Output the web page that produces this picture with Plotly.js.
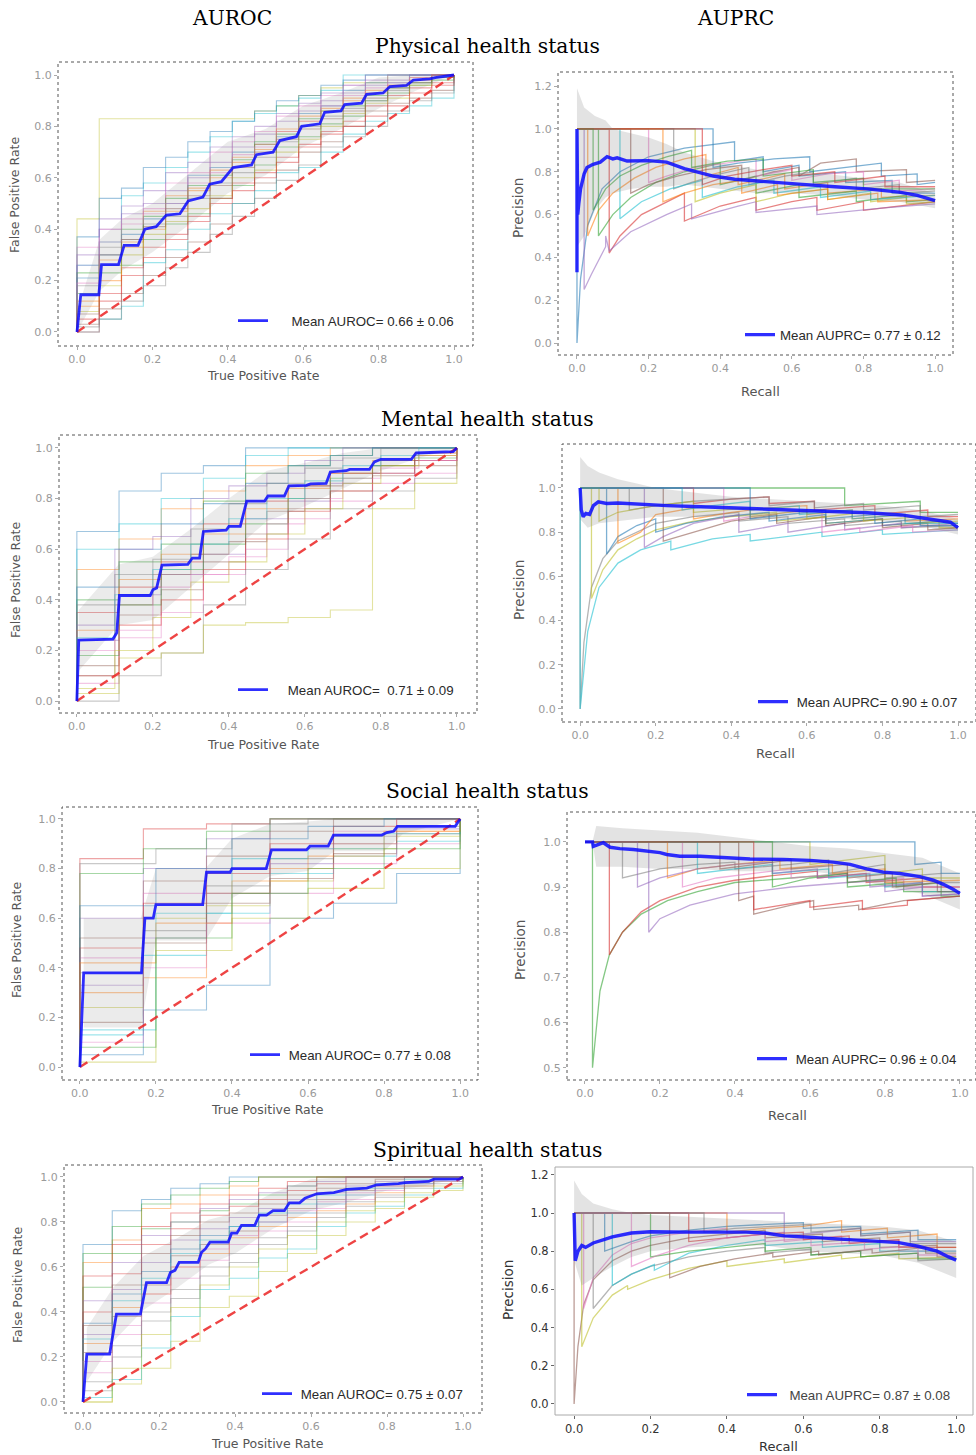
<!DOCTYPE html>
<html><head><meta charset="utf-8">
<script src="https://cdn.plot.ly/plotly-3.0.1.min.js"></script>
<style>html,body{margin:0;padding:0;background:#fff}#chart{width:976px;height:1455px}</style>
</head><body><div id="chart"></div>
<script>
// ---------------- DATA ----------------
const xTicks = [0,0.2,0.4,0.6,0.8,1.0];
const rocYTicks = [0,0.2,0.4,0.6,0.8,1.0];
const pr12YTicks = [0,0.2,0.4,0.6,0.8,1.0,1.2];
const socPrYTicks = [0.5,0.6,0.7,0.8,0.9,1.0];
const diagX = [0,1];
const diagY = [0,1];

// Physical - ROC
const physRocGrid = [0,0.059,0.118,0.176,0.235,0.294,0.353,0.412,0.471,0.529,0.588,0.647,0.706,0.765,0.824,0.882,0.941,1];
const physRocFolds = [
 [0.44,0.83,0.83,0.83,0.83,0.83,0.83,0.83,0.86,0.88,0.92,0.95,0.97,0.97,1,1,1,1],
 [0.26,0.35,0.53,0.58,0.64,0.70,0.76,0.82,0.85,0.88,0.91,0.94,1,1,1,1,1,1],
 [0.21,0.30,0.38,0.44,0.50,0.61,0.64,0.70,0.73,0.76,0.85,0.88,0.94,0.97,0.97,1,1,1],
 [0.10,0.28,0.35,0.47,0.53,0.55,0.60,0.66,0.71,0.78,0.84,0.87,0.90,0.93,0.96,0.99,1,1],
 [0.15,0.23,0.26,0.36,0.42,0.46,0.52,0.57,0.65,0.72,0.76,0.81,0.84,0.90,0.93,0.96,0.98,1],
 [0.05,0.12,0.25,0.33,0.38,0.45,0.50,0.58,0.62,0.68,0.73,0.78,0.82,0.88,0.92,0.95,0.97,1],
 [0.26,0.40,0.46,0.50,0.55,0.60,0.66,0.72,0.77,0.82,0.86,0.90,0.93,0.96,0.98,1,1,1],
 [0.03,0.09,0.15,0.22,0.29,0.35,0.42,0.50,0.58,0.63,0.70,0.74,0.80,0.86,0.89,0.91,0.94,1],
 [0.33,0.40,0.44,0.48,0.58,0.62,0.70,0.74,0.78,0.84,0.88,0.92,0.96,1,1,1,1,1],
 [0.18,0.33,0.36,0.42,0.45,0.52,0.58,0.62,0.68,0.74,0.80,0.84,0.87,0.90,0.94,0.97,1,1],
 [0.08,0.18,0.30,0.38,0.43,0.48,0.53,0.60,0.63,0.70,0.75,0.80,0.85,0.89,0.91,0.96,0.99,1],
 [0.0,0.05,0.10,0.27,0.32,0.40,0.46,0.50,0.55,0.62,0.64,0.70,0.77,0.82,0.85,0.88,0.91,1],
 [0.37,0.52,0.56,0.64,0.68,0.74,0.78,0.82,0.86,0.90,0.92,0.96,0.98,1,1,1,1,1],
 [0.12,0.20,0.33,0.40,0.47,0.56,0.63,0.68,0.73,0.79,0.82,0.86,0.91,0.94,0.96,0.98,1,1],
 [0.23,0.26,0.40,0.45,0.52,0.57,0.61,0.67,0.74,0.77,0.83,0.86,0.88,0.92,0.95,0.97,0.99,1],
 [0.0,0.15,0.22,0.29,0.36,0.43,0.52,0.55,0.60,0.66,0.72,0.77,0.80,0.84,0.88,0.93,0.96,1],
 [0.30,0.44,0.49,0.55,0.62,0.66,0.72,0.76,0.80,0.85,0.89,0.93,0.96,0.98,1,1,1,1],
 [0.07,0.30,0.36,0.41,0.48,0.53,0.57,0.64,0.70,0.75,0.79,0.83,0.86,0.91,0.95,0.97,1,1],
 [0.19,0.35,0.42,0.46,0.50,0.58,0.62,0.69,0.72,0.78,0.82,0.88,0.92,0.95,0.97,0.99,1,1],
 [0.02,0.05,0.12,0.18,0.25,0.31,0.38,0.45,0.52,0.59,0.65,0.72,0.76,0.80,0.86,0.90,0.93,1]
];
const physRocMeanX = [0,0.01,0.058,0.065,0.11,0.125,0.162,0.18,0.21,0.237,0.273,0.295,0.334,0.352,0.383,0.414,0.463,0.476,0.52,0.538,0.582,0.596,0.644,0.657,0.70,0.71,0.755,0.768,0.812,0.83,0.874,0.892,0.936,0.95,1.0];
const physRocMeanY = [0,0.145,0.145,0.262,0.262,0.337,0.337,0.40,0.41,0.455,0.46,0.51,0.525,0.575,0.585,0.64,0.65,0.69,0.70,0.745,0.76,0.80,0.81,0.855,0.86,0.885,0.89,0.925,0.93,0.955,0.96,0.98,0.985,0.99,1.0];
const physRocBandX = [0,0.06,0.12,0.2,0.3,0.4,0.5,0.6,0.7,0.8,0.9,1.0];
const physRocBandUp = [0.08,0.36,0.44,0.50,0.62,0.74,0.79,0.88,0.93,0.99,1.0,1.0];
const physRocBandLo = [0.0,0.16,0.24,0.31,0.42,0.54,0.61,0.72,0.79,0.87,0.94,1.0];

// Physical - PR
const physPrFoldX = [
 [0,0,0.01,0.03,0.07,0.12,0.2,0.3,0.44,0.44,0.52,0.52,0.62,0.62,0.75,0.75,0.88,0.88,1],
 [0,0.03,0.03,0.06,0.1,0.16,0.22,0.3,0.36,0.36,0.45,0.45,0.58,0.58,0.7,0.7,0.85,0.85,1],
 [0,0.06,0.06,0.1,0.15,0.22,0.3,0.4,0.4,0.5,0.5,0.62,0.62,0.78,0.78,0.92,0.92,1],
 [0,0.09,0.09,0.12,0.18,0.25,0.3,0.3,0.4,0.5,0.5,0.6,0.67,0.67,0.8,0.8,1],
 [0.02,0.02,0.04,0.08,0.08,0.09,0.15,0.25,0.32,0.32,0.45,0.5,0.5,0.67,0.67,0.85,1],
 [0,0.15,0.15,0.2,0.28,0.36,0.46,0.46,0.55,0.62,0.62,0.68,0.78,0.78,0.92,0.92,1],
 [0,0.2,0.2,0.25,0.33,0.42,0.5,0.5,0.6,0.6,0.7,0.8,0.8,0.9,0.9,1],
 [0,0.27,0.27,0.32,0.4,0.48,0.48,0.58,0.66,0.66,0.78,0.78,0.9,0.9,1],
 [0,0.33,0.33,0.4,0.5,0.5,0.6,0.7,0.7,0.82,0.82,0.92,0.92,1],
 [0,0.12,0.12,0.18,0.26,0.35,0.35,0.45,0.55,0.55,0.68,0.68,0.82,0.82,1],
 [0,0.38,0.38,0.45,0.55,0.65,0.65,0.75,0.85,0.85,0.95,0.95,1],
 [0,0.24,0.24,0.3,0.38,0.46,0.46,0.56,0.56,0.7,0.7,0.84,0.84,1],
 [0,0.045,0.045,0.08,0.12,0.18,0.25,0.32,0.32,0.42,0.52,0.52,0.66,0.66,0.8,0.8,1],
 [0,0.35,0.35,0.42,0.52,0.6,0.6,0.72,0.72,0.86,0.86,1]
];
const physPrFoldY = [
 [1,0,0.3,0.55,0.72,0.8,0.87,0.91,0.94,0.85,0.87,0.80,0.83,0.78,0.80,0.75,0.76,0.70,0.70],
 [1,1,0.5,0.62,0.70,0.77,0.82,0.86,0.88,0.78,0.82,0.74,0.79,0.72,0.75,0.70,0.72,0.68,0.69],
 [1,1,0.5,0.6,0.68,0.75,0.80,0.84,0.74,0.78,0.70,0.74,0.68,0.71,0.66,0.69,0.66,0.67],
 [1,1,0.42,0.5,0.6,0.66,0.70,0.57,0.64,0.68,0.62,0.66,0.68,0.62,0.66,0.62,0.66],
 [1,0.25,0.32,0.45,0.50,0.43,0.52,0.60,0.65,0.58,0.64,0.66,0.61,0.64,0.60,0.63,0.65],
 [1,1,0.7,0.74,0.78,0.81,0.83,0.76,0.80,0.82,0.78,0.84,0.86,0.80,0.81,0.75,0.76],
 [1,1,0.75,0.78,0.82,0.84,0.86,0.78,0.81,0.76,0.79,0.80,0.74,0.76,0.71,0.72],
 [1,1,0.72,0.75,0.79,0.82,0.74,0.78,0.80,0.74,0.77,0.72,0.74,0.70,0.71],
 [1,1,0.66,0.70,0.74,0.66,0.70,0.72,0.67,0.70,0.66,0.68,0.65,0.66],
 [1,1,0.58,0.66,0.72,0.76,0.68,0.73,0.76,0.70,0.73,0.68,0.71,0.67,0.69],
 [1,1,0.82,0.84,0.86,0.87,0.80,0.82,0.84,0.78,0.79,0.74,0.75],
 [1,1,0.66,0.70,0.74,0.76,0.70,0.74,0.69,0.72,0.67,0.70,0.66,0.67],
 [1,1,0.62,0.72,0.78,0.83,0.87,0.90,0.82,0.85,0.86,0.78,0.81,0.75,0.77,0.72,0.72],
 [1,1,0.74,0.78,0.81,0.83,0.78,0.80,0.75,0.78,0.73,0.73]
];
const physPrMeanX = [0,0,0.002,0.005,0.01,0.02,0.028,0.045,0.065,0.084,0.1,0.112,0.14,0.2,0.25,0.3,0.38,0.44,0.53,0.62,0.72,0.81,0.9,0.95,1.0];
const physPrMeanY = [0.33,1.0,0.6,0.65,0.72,0.79,0.82,0.835,0.845,0.87,0.86,0.865,0.85,0.852,0.845,0.815,0.78,0.765,0.752,0.742,0.73,0.72,0.705,0.69,0.665];
const physPrBandX = [0,0.02,0.05,0.08,0.1,0.15,0.2,0.25,0.3,0.4,0.5,0.6,0.7,0.8,0.9,1];
const physPrBandUp = [1.19,1.1,1.06,1.04,1.0,0.98,0.96,0.93,0.89,0.84,0.81,0.8,0.79,0.77,0.75,0.7];
const physPrBandLo = [0.45,0.5,0.62,0.68,0.70,0.72,0.73,0.73,0.74,0.72,0.70,0.70,0.69,0.67,0.66,0.63];

// Mental - ROC
const mentRocGrid9 = [0,0.111,0.222,0.333,0.444,0.556,0.667,0.778,0.889,1];
const mentRocGrid10 = [0,0.1,0.2,0.3,0.4,0.5,0.6,0.7,0.8,0.9,1];
const mentRocFolds9 = [
 [0.67,0.83,0.90,0.93,1.0,1,1,1,1,1],
 [0.52,0.64,0.76,0.83,0.93,0.97,1,1,1,1],
 [0.40,0.55,0.62,0.79,0.90,0.93,0.97,1,1,1],
 [0.35,0.45,0.55,0.70,0.79,0.85,0.90,0.93,0.97,1],
 [0.24,0.42,0.50,0.58,0.72,0.79,0.86,0.90,0.95,1],
 [0.14,0.34,0.44,0.55,0.66,0.76,0.83,0.89,0.93,1],
 [0.07,0.25,0.35,0.50,0.60,0.72,0.79,0.86,0.90,1],
 [0.0,0.10,0.19,0.38,0.52,0.64,0.76,0.83,0.88,1],
 [0.03,0.17,0.19,0.30,0.31,0.33,0.36,0.76,0.86,1],
 [0.60,0.70,0.80,0.88,0.97,1,1,1,1,1],
 [0.45,0.60,0.70,0.78,0.86,0.93,0.97,1,1,1],
 [0.28,0.48,0.58,0.66,0.76,0.84,0.90,0.95,0.98,1],
 [0.18,0.38,0.52,0.62,0.70,0.80,0.88,0.93,0.96,1],
 [0.10,0.30,0.40,0.52,0.64,0.75,0.83,0.90,0.95,1]
];
const mentRocFolds10 = [
 [0.30,0.60,0.65,0.80,0.85,0.90,0.95,1,1,1,1],
 [0.10,0.38,0.50,0.58,0.63,0.75,0.85,0.90,0.95,0.98,1],
 [0.20,0.28,0.45,0.50,0.57,0.70,0.80,0.88,0.92,0.95,1],
 [0.38,0.50,0.56,0.68,0.78,0.86,0.92,0.96,1,1,1],
 [0.05,0.20,0.33,0.47,0.55,0.66,0.76,0.86,0.93,0.97,1],
 [0.25,0.42,0.52,0.62,0.72,0.80,0.87,0.93,0.97,1,1]
];
const mentRocMeanX = [0,0.005,0.095,0.105,0.112,0.193,0.2,0.21,0.224,0.292,0.304,0.323,0.333,0.393,0.40,0.43,0.447,0.494,0.503,0.546,0.558,0.604,0.615,0.656,0.667,0.709,0.718,0.77,0.783,0.80,0.88,0.893,0.99,1.0];
const mentRocMeanY = [0,0.241,0.245,0.27,0.417,0.417,0.44,0.447,0.537,0.54,0.565,0.565,0.67,0.675,0.69,0.69,0.79,0.79,0.81,0.81,0.85,0.852,0.858,0.86,0.905,0.91,0.915,0.915,0.945,0.955,0.955,0.98,0.985,1.0];
const mentRocBandX = [0.005,0.11,0.2,0.3,0.4,0.5,0.6,0.7,0.8,0.9,1];
const mentRocBandUp = [0.36,0.54,0.57,0.68,0.80,0.91,0.94,0.98,1.0,1.0,1.0];
const mentRocBandLo = [0.12,0.30,0.32,0.45,0.58,0.71,0.77,0.84,0.91,0.96,1.0];

// Mental - PR
const mentPrFoldX = [
 [0,0,0.01,0.03,0.06,0.1,0.2,0.3,0.42,0.42,0.55,0.55,0.7,0.7,0.85,0.85,1],
 [0,0.03,0.03,0.06,0.1,0.15,0.2,0.3,0.4,0.52,0.52,0.65,0.65,0.8,0.8,0.95,0.95,1],
 [0,0,0.02,0.05,0.1,0.16,0.24,0.24,0.35,0.45,0.45,0.6,0.64,0.64,0.8,0.8,1],
 [0,0.07,0.07,0.1,0.15,0.2,0.2,0.28,0.38,0.5,0.5,0.65,0.65,0.8,0.8,0.95,1],
 [0,0.1,0.1,0.16,0.2,0.3,0.3,0.4,0.5,0.6,0.6,0.72,0.72,0.86,0.86,1],
 [0,0.7,0.7,0.8,0.9,0.9,1],
 [0,0.3,0.3,0.4,0.5,0.5,0.62,0.62,0.78,0.78,0.92,0.92,1],
 [0,0.17,0.17,0.22,0.3,0.42,0.42,0.55,0.55,0.7,0.7,0.85,0.85,1],
 [0,0.22,0.22,0.3,0.4,0.52,0.52,0.65,0.65,0.8,0.8,0.92,0.92,1],
 [0,0.38,0.38,0.45,0.55,0.64,0.64,0.74,0.74,0.88,0.88,1],
 [0,0.13,0.13,0.2,0.3,0.4,0.5,0.5,0.62,0.62,0.75,0.75,0.9,0.9,1],
 [0,0.05,0.05,0.1,0.2,0.3,0.3,0.45,0.45,0.6,0.6,0.75,0.75,0.9,0.9,1],
 [0,0.27,0.27,0.35,0.45,0.45,0.58,0.58,0.72,0.72,0.86,0.86,1],
 [0,0.45,0.45,0.55,0.65,0.65,0.78,0.78,0.9,0.9,1]
];
const mentPrFoldY = [
 [1,0,0.3,0.55,0.68,0.76,0.84,0.87,0.89,0.85,0.87,0.84,0.86,0.83,0.85,0.82,0.83],
 [1,1,0.5,0.63,0.72,0.77,0.81,0.85,0.87,0.89,0.85,0.87,0.84,0.86,0.83,0.85,0.82,0.82],
 [1,0,0.35,0.55,0.66,0.72,0.76,0.72,0.77,0.79,0.76,0.79,0.80,0.78,0.81,0.79,0.81],
 [1,1,0.7,0.78,0.83,0.86,0.80,0.84,0.87,0.89,0.85,0.88,0.84,0.86,0.83,0.85,0.84],
 [1,1,0.75,0.8,0.88,0.91,0.86,0.89,0.91,0.92,0.88,0.90,0.86,0.88,0.85,0.86],
 [1,1,0.92,0.93,0.94,0.89,0.89],
 [1,1,0.93,0.95,0.96,0.93,0.94,0.90,0.92,0.88,0.90,0.87,0.87],
 [1,1,0.73,0.78,0.84,0.88,0.80,0.84,0.80,0.84,0.81,0.84,0.82,0.84],
 [1,1,0.76,0.80,0.85,0.88,0.84,0.87,0.83,0.86,0.82,0.84,0.81,0.82],
 [1,1,0.85,0.87,0.89,0.90,0.80,0.82,0.80,0.83,0.80,0.81],
 [1,1,0.9,0.92,0.94,0.95,0.96,0.92,0.94,0.91,0.93,0.90,0.92,0.87,0.88],
 [1,1,0.85,0.89,0.92,0.94,0.89,0.91,0.87,0.90,0.86,0.89,0.85,0.87,0.84,0.85],
 [1,1,0.90,0.92,0.94,0.90,0.92,0.88,0.90,0.86,0.88,0.84,0.84],
 [1,1,0.86,0.88,0.90,0.86,0.88,0.84,0.86,0.83,0.83]
];
const mentPrMeanX = [0,0.003,0.008,0.015,0.025,0.035,0.048,0.07,0.1,0.14,0.185,0.23,0.32,0.4,0.5,0.58,0.67,0.76,0.85,0.93,0.98,1.0];
const mentPrMeanY = [1.0,0.9,0.87,0.885,0.88,0.92,0.937,0.93,0.932,0.928,0.924,0.92,0.915,0.91,0.905,0.9,0.895,0.888,0.878,0.86,0.845,0.82];
const mentPrBandX = [0,0.02,0.05,0.1,0.15,0.2,0.3,0.4,0.5,0.6,0.7,0.8,0.9,1];
const mentPrBandUp = [1.14,1.1,1.07,1.04,1.02,1.0,0.98,0.96,0.95,0.94,0.93,0.92,0.9,0.86];
const mentPrBandLo = [0.86,0.82,0.84,0.85,0.86,0.87,0.87,0.87,0.86,0.86,0.86,0.85,0.83,0.79];

// Social - ROC
const socRocGrid6 = [0,0.167,0.333,0.5,0.667,0.833,1];
const socRocGrid5 = [0,0.2,0.4,0.6,0.8,1];
const socRocFolds6 = [
 [0.84,0.96,0.98,1,1,1,1],
 [0.60,0.80,0.92,1,1,1,1],
 [0.52,0.75,0.85,0.95,1,1,1],
 [0.44,0.70,0.80,0.88,0.95,1,1],
 [0.38,0.55,0.73,0.84,0.93,0.97,1],
 [0.24,0.60,0.65,0.75,0.88,0.93,1],
 [0.13,0.45,0.62,0.78,0.85,0.91,1],
 [0.05,0.23,0.33,0.60,0.66,0.78,1],
 [0.30,0.36,0.70,0.80,0.90,0.95,1],
 [0.78,0.88,0.95,1,1,1,1],
 [0.48,0.66,0.78,0.90,0.97,1,1],
 [0.33,0.52,0.70,0.82,0.90,0.96,1],
 [0.18,0.50,0.66,0.76,0.86,0.94,1],
 [0.10,0.40,0.58,0.70,0.82,0.90,1]
];
const socRocFolds5 = [
 [0.82,0.88,0.98,1,1,1],
 [0.02,0.47,0.60,0.72,0.80,1],
 [0.15,0.62,0.84,0.88,0.94,1],
 [0.65,0.80,0.92,0.97,1,1],
 [0.42,0.58,0.75,0.85,0.95,1],
 [0.08,0.52,0.70,0.80,0.88,1]
];
const socRocMeanX = [0,0.01,0.162,0.171,0.193,0.2,0.323,0.333,0.395,0.40,0.49,0.504,0.596,0.605,0.653,0.667,0.794,0.807,0.825,0.835,0.987,1.0];
const socRocMeanY = [0,0.38,0.38,0.60,0.60,0.655,0.655,0.785,0.785,0.80,0.80,0.875,0.875,0.89,0.89,0.935,0.935,0.945,0.95,0.97,0.97,1.0];
const socRocBandX = [0.01,0.16,0.2,0.33,0.4,0.5,0.6,0.67,0.8,0.85,1];
const socRocBandUp = [0.60,0.60,0.80,0.80,0.92,0.98,0.99,1.0,1.0,1.0,1.0];
const socRocBandLo = [0.16,0.16,0.51,0.51,0.68,0.77,0.79,0.87,0.87,0.94,1.0];

// Social - PR
const socPrFoldX = [
 [0,0.02,0.02,0.04,0.065,0.1,0.15,0.22,0.3,0.4,0.55,0.7,0.7,0.85,0.85,1],
 [0,0.065,0.065,0.1,0.15,0.2,0.3,0.4,0.5,0.62,0.62,0.75,0.75,0.9,0.9,1],
 [0,0.17,0.17,0.2,0.28,0.4,0.55,0.7,0.8,0.8,0.9,0.9,1],
 [0,0.41,0.41,0.45,0.45,0.55,0.61,0.61,0.73,0.73,0.85,1],
 [0,0.26,0.26,0.35,0.45,0.55,0.55,0.7,0.7,0.85,0.85,1],
 [0,0.1,0.1,0.2,0.3,0.4,0.4,0.55,0.65,0.65,0.8,0.8,0.95,0.95,1],
 [0,0.6,0.6,0.7,0.8,0.8,0.9,0.9,1],
 [0,0.3,0.3,0.4,0.5,0.5,0.65,0.65,0.8,0.8,0.9,0.9,1],
 [0,0.88,0.88,0.95,0.95,1],
 [0,0.22,0.22,0.3,0.4,0.52,0.52,0.66,0.66,0.8,0.8,1],
 [0,0.5,0.5,0.6,0.7,0.7,0.83,0.83,0.95,0.95,1],
 [0,0.45,0.45,0.6,0.6,0.74,0.74,0.86,0.86,1],
 [0,0.14,0.14,0.2,0.3,0.4,0.5,0.5,0.62,0.62,0.76,0.76,0.9,0.9,1],
 [0,0.36,0.36,0.45,0.55,0.55,0.7,0.7,0.82,0.82,0.94,0.94,1]
];
const socPrFoldY = [
 [1,1,0.5,0.67,0.75,0.80,0.84,0.87,0.89,0.91,0.92,0.93,0.90,0.91,0.89,0.89],
 [1,1,0.75,0.80,0.845,0.87,0.9,0.915,0.925,0.935,0.92,0.93,0.91,0.92,0.90,0.90],
 [1,1,0.80,0.83,0.86,0.885,0.9,0.91,0.915,0.89,0.9,0.88,0.885],
 [1,1,0.87,0.88,0.84,0.86,0.87,0.85,0.86,0.85,0.87,0.88],
 [1,1,0.9,0.92,0.93,0.94,0.92,0.93,0.91,0.92,0.9,0.9],
 [1,1,0.92,0.94,0.95,0.955,0.94,0.95,0.96,0.93,0.95,0.92,0.93,0.91,0.91],
 [1,1,0.95,0.96,0.97,0.93,0.94,0.92,0.92],
 [1,1,0.93,0.94,0.95,0.93,0.94,0.92,0.93,0.9,0.91,0.89,0.89],
 [1,1,0.95,0.955,0.93,0.93],
 [1,1,0.92,0.94,0.95,0.96,0.94,0.95,0.93,0.94,0.91,0.915],
 [1,1,0.9,0.92,0.93,0.91,0.92,0.9,0.91,0.88,0.88],
 [1,1,0.85,0.87,0.855,0.87,0.85,0.86,0.87,0.88],
 [1,1,0.9,0.92,0.94,0.95,0.955,0.93,0.94,0.92,0.93,0.9,0.91,0.88,0.885],
 [1,1,0.94,0.95,0.96,0.94,0.95,0.92,0.93,0.9,0.91,0.89,0.89]
];
const socPrMeanX = [0,0.02,0.022,0.035,0.049,0.067,0.093,0.129,0.164,0.2,0.218,0.253,0.307,0.36,0.44,0.529,0.6,0.662,0.707,0.751,0.796,0.84,0.893,0.929,0.956,0.982,1.0];
const socPrMeanY = [1.0,1.0,0.99,0.993,0.998,0.988,0.985,0.983,0.979,0.976,0.972,0.968,0.968,0.965,0.962,0.961,0.959,0.955,0.95,0.94,0.933,0.93,0.923,0.915,0.906,0.895,0.886];
const socPrBandX = [0,0.02,0.03,0.1,0.2,0.3,0.4,0.5,0.6,0.7,0.8,0.9,1];
const socPrBandUp = [1.0,1.0,1.035,1.03,1.025,1.02,1.01,1.0,0.99,0.985,0.975,0.965,0.93];
const socPrBandLo = [1.0,1.0,0.945,0.945,0.94,0.94,0.935,0.935,0.935,0.925,0.9,0.885,0.85];

// Spiritual - ROC
const spirRocGrid = [0,0.077,0.154,0.231,0.308,0.385,0.462,0.538,0.615,0.692,0.769,0.846,0.923,1];
const spirRocFolds = [
 [0.70,0.85,0.90,0.95,0.97,1,1,1,1,1,1,1,1,1],
 [0.62,0.72,0.86,0.88,0.92,0.96,1,1,1,1,1,1,1,1],
 [0.51,0.66,0.77,0.80,0.85,0.88,0.92,0.96,1,1,1,1,1,1],
 [0.40,0.57,0.70,0.77,0.83,0.87,0.90,0.94,0.97,1,1,1,1,1],
 [0.30,0.50,0.62,0.72,0.77,0.82,0.86,0.90,0.93,0.96,0.98,1,1,1],
 [0.22,0.38,0.52,0.65,0.70,0.76,0.83,0.86,0.90,0.94,0.96,0.98,1,1],
 [0.13,0.30,0.44,0.55,0.63,0.70,0.76,0.80,0.86,0.90,0.94,0.97,0.98,1],
 [0.05,0.20,0.36,0.46,0.56,0.62,0.70,0.76,0.82,0.87,0.91,0.95,0.97,1],
 [0.0,0.08,0.15,0.27,0.42,0.47,0.58,0.66,0.74,0.80,0.86,0.91,0.94,1],
 [0.02,0.10,0.24,0.38,0.50,0.55,0.64,0.68,0.78,0.84,0.87,0.92,0.95,1],
 [0.35,0.48,0.58,0.68,0.74,0.78,0.80,0.84,0.88,0.92,0.95,0.97,0.99,1],
 [0.26,0.42,0.48,0.60,0.66,0.73,0.78,0.82,0.85,0.88,0.93,0.96,1,1],
 [0.66,0.78,0.88,0.92,0.95,0.98,1,1,1,1,1,1,1,1],
 [0.56,0.70,0.78,0.84,0.88,0.92,0.95,0.98,1,1,1,1,1,1],
 [0.45,0.62,0.74,0.80,0.86,0.90,0.93,0.96,0.98,1,1,1,1,1],
 [0.34,0.52,0.66,0.74,0.80,0.84,0.88,0.92,0.95,0.97,0.99,1,1,1],
 [0.18,0.34,0.48,0.60,0.68,0.74,0.80,0.85,0.89,0.93,0.96,0.98,1,1],
 [0.09,0.25,0.40,0.50,0.60,0.66,0.73,0.78,0.84,0.89,0.92,0.96,0.98,1],
 [0.0,0.15,0.30,0.42,0.52,0.60,0.68,0.74,0.80,0.85,0.89,0.93,0.96,1],
 [0.28,0.45,0.55,0.66,0.72,0.78,0.84,0.88,0.92,0.95,0.97,0.99,1,1]
];
const spirRocMeanX = [0,0.01,0.07,0.088,0.151,0.167,0.22,0.23,0.242,0.253,0.303,0.312,0.322,0.334,0.382,0.391,0.405,0.417,0.452,0.464,0.483,0.5,0.53,0.543,0.57,0.584,0.615,0.66,0.694,0.747,0.773,0.83,0.848,0.91,0.923,0.99,1.0];
const spirRocMeanY = [0,0.213,0.213,0.39,0.39,0.53,0.53,0.575,0.585,0.62,0.62,0.665,0.68,0.71,0.71,0.75,0.75,0.785,0.785,0.83,0.83,0.85,0.85,0.885,0.885,0.905,0.925,0.93,0.945,0.95,0.965,0.97,0.975,0.98,0.99,0.99,1.0];
const spirRocBandX = [0.01,0.08,0.16,0.25,0.33,0.4,0.5,0.6,0.7,0.8,0.9,1];
const spirRocBandUp = [0.33,0.51,0.65,0.73,0.81,0.84,0.93,0.99,1.0,1.0,1.0,1.0];
const spirRocBandLo = [0.09,0.27,0.41,0.51,0.61,0.66,0.77,0.85,0.89,0.94,0.96,1.0];

// Spiritual - PR
const spirPrFoldX = [
 [0,0,0.01,0.025,0.05,0.1,0.15,0.2,0.3,0.4,0.5,0.5,0.65,0.65,0.8,0.8,0.95,0.95,1],
 [0,0.025,0.025,0.05,0.1,0.15,0.2,0.3,0.4,0.4,0.55,0.55,0.7,0.7,0.85,0.85,1],
 [0,0.05,0.05,0.1,0.15,0.2,0.3,0.4,0.5,0.5,0.62,0.62,0.75,0.75,0.9,0.9,1],
 [0,0.02,0.02,0.05,0.1,0.14,0.14,0.2,0.3,0.4,0.4,0.55,0.55,0.7,0.7,0.85,0.85,1],
 [0,0.1,0.1,0.15,0.21,0.21,0.3,0.4,0.5,0.5,0.65,0.65,0.8,0.8,1],
 [0,0.08,0.08,0.15,0.2,0.3,0.4,0.5,0.6,0.6,0.75,0.75,0.9,0.9,1],
 [0,0.4,0.4,0.5,0.6,0.7,0.7,0.82,0.82,0.95,0.95,1],
 [0,0.2,0.2,0.3,0.4,0.5,0.5,0.62,0.62,0.75,0.75,0.9,0.9,1],
 [0,0.3,0.3,0.4,0.5,0.6,0.6,0.72,0.72,0.85,0.85,1],
 [0,0.55,0.55,0.65,0.75,0.75,0.88,0.88,1],
 [0,0.25,0.25,0.33,0.42,0.52,0.52,0.64,0.64,0.78,0.78,0.92,0.92,1],
 [0,0.15,0.15,0.22,0.3,0.4,0.5,0.5,0.62,0.62,0.76,0.76,0.9,0.9,1],
 [0,0.34,0.34,0.42,0.52,0.62,0.62,0.75,0.75,0.88,0.88,1]
];
const spirPrFoldY = [
 [1,0,0.3,0.52,0.65,0.75,0.80,0.83,0.87,0.89,0.91,0.87,0.89,0.85,0.87,0.82,0.83,0.77,0.77],
 [1,1,0.5,0.66,0.78,0.84,0.87,0.90,0.92,0.87,0.90,0.85,0.88,0.84,0.86,0.80,0.80],
 [1,1,0.5,0.62,0.68,0.72,0.77,0.80,0.82,0.79,0.81,0.78,0.80,0.77,0.79,0.75,0.76],
 [1,1,0.3,0.45,0.57,0.62,0.60,0.65,0.71,0.75,0.72,0.76,0.74,0.78,0.76,0.79,0.76,0.77],
 [1,1,0.62,0.68,0.73,0.70,0.79,0.83,0.86,0.83,0.85,0.82,0.84,0.80,0.80],
 [1,1,0.8,0.85,0.88,0.91,0.93,0.94,0.95,0.92,0.93,0.89,0.91,0.86,0.86],
 [1,1,0.9,0.92,0.93,0.96,0.90,0.92,0.87,0.89,0.82,0.82],
 [1,1,0.77,0.80,0.82,0.84,0.80,0.82,0.78,0.80,0.77,0.79,0.76,0.76],
 [1,1,0.85,0.87,0.89,0.90,0.86,0.88,0.84,0.86,0.82,0.82],
 [1,1,0.88,0.90,0.92,0.88,0.90,0.85,0.85],
 [1,1,0.66,0.72,0.76,0.79,0.77,0.80,0.78,0.81,0.79,0.82,0.79,0.79],
 [1,1,0.72,0.78,0.83,0.87,0.89,0.85,0.87,0.83,0.85,0.81,0.83,0.78,0.78],
 [1,1,0.9,0.92,0.93,0.94,0.90,0.92,0.88,0.90,0.84,0.84]
];
const spirPrMeanX = [0,0.003,0.01,0.02,0.03,0.05,0.08,0.1,0.15,0.2,0.3,0.4,0.45,0.5,0.55,0.6,0.7,0.8,0.85,0.9,0.95,0.98,1.0];
const spirPrMeanY = [1.0,0.75,0.80,0.83,0.82,0.843,0.862,0.875,0.895,0.902,0.9,0.9,0.9,0.895,0.88,0.875,0.864,0.854,0.845,0.826,0.80,0.77,0.753];
const spirPrBandX = [0,0.02,0.05,0.1,0.15,0.2,0.3,0.4,0.5,0.6,0.7,0.8,0.9,1];
const spirPrBandUp = [1.17,1.1,1.05,1.02,1.0,0.99,0.98,0.97,0.96,0.95,0.94,0.93,0.91,0.85];
const spirPrBandLo = [0.75,0.62,0.66,0.72,0.77,0.8,0.82,0.83,0.83,0.8,0.79,0.78,0.74,0.66];

const legendNames = [
 '\u00a0\u00a0\u00a0\u00a0\u00a0Mean AUROC= 0.66 \u00b1 0.06',
 'Mean AUPRC= 0.77 \u00b1 0.12',
 '\u00a0\u00a0\u00a0\u00a0Mean AUROC=\u00a0 0.71 \u00b1 0.09',
 '\u00a0Mean AUPRC= 0.90 \u00b1 0.07',
 '\u00a0Mean AUROC= 0.77 \u00b1 0.08',
 '\u00a0Mean AUPRC= 0.96 \u00b1 0.04',
 '\u00a0Mean AUROC= 0.75 \u00b1 0.07',
 '\u00a0\u00a0Mean AUPRC= 0.87 \u00b1 0.08'
];
const columnTitles = ['AUROC','AUPRC'];
const rowTitles = ['Physical health status','Mental health status','Social health status','Spiritual health status'];

// ---------------- BUILD ----------------
const W = 976, H = 1455;
const px = v => Math.min(1, Math.max(0, v / W));
const py = v => Math.min(1, Math.max(0, 1 - v / H));
const tab10 = ['#1f77b4','#ff7f0e','#2ca02c','#d62728','#9467bd','#8c564b','#e377c2','#7f7f7f','#bcbd22','#17becf'];

const panels = [
 {roc:true, cshift:8, groups:[[physRocGrid, physRocFolds]], mx:physRocMeanX, my:physRocMeanY, bx:physRocBandX, bu:physRocBandUp, bl:physRocBandLo,
  frame:[58,473,62,346], xr:[-0.0504,1.0504], yr:[-0.0545,1.0506], yt:rocYTicks, leg:[238,321],
  ylab:['False Positive Rate',15,195], xlab:['True Positive Rate',263,376]},
 {roc:false, cshift:0, fx:physPrFoldX, fy:physPrFoldY, mx:physPrMeanX, my:physPrMeanY, bx:physPrBandX, bu:physPrBandUp, bl:physPrBandLo,
  frame:[558,953,72,355], xr:[-0.053,1.050], yr:[-0.056,1.266], yt:pr12YTicks, leg:[745,335],
  ylab:['Precision',518,208], xlab:['Recall',760,392]},
 {roc:true, cshift:0, groups:[[mentRocGrid9, mentRocFolds9],[mentRocGrid10, mentRocFolds10]], mx:mentRocMeanX, my:mentRocMeanY, bx:mentRocBandX, bu:mentRocBandUp, bl:mentRocBandLo,
  frame:[59,477,435,713], xr:[-0.047,1.053], yr:[-0.047,1.051], yt:rocYTicks, leg:[238,690],
  ylab:['False Positive Rate',15,580], xlab:['True Positive Rate',263,745]},
 {roc:false, cshift:7, fx:mentPrFoldX, fy:mentPrFoldY, mx:mentPrMeanX, my:mentPrMeanY, bx:mentPrBandX, bu:mentPrBandUp, bl:mentPrBandLo,
  frame:[562,977,444,722], xr:[-0.048,1.0476], yr:[-0.059,1.199], yt:rocYTicks, leg:[758,702],
  ylab:['Precision',519,590], xlab:['Recall',775,753]},
 {roc:true, cshift:3, groups:[[socRocGrid6, socRocFolds6],[socRocGrid5, socRocFolds5]], mx:socRocMeanX, my:socRocMeanY, bx:socRocBandX, bu:socRocBandUp, bl:socRocBandLo,
  frame:[62,478,807,1080], xr:[-0.047,1.047], yr:[-0.052,1.048], yt:rocYTicks, leg:[250,1055],
  ylab:['False Positive Rate',16,940], xlab:['True Positive Rate',267,1109]},
 {roc:false, cshift:2, fx:socPrFoldX, fy:socPrFoldY, mx:socPrMeanX, my:socPrMeanY, bx:socPrBandX, bu:socPrBandUp, bl:socPrBandLo,
  frame:[567,977,812,1080], xr:[-0.048,1.043], yr:[0.473,1.066], yt:socPrYTicks, leg:[757,1059],
  ylab:['Precision',520,950], xlab:['Recall',787,1115]},
 {roc:true, cshift:0, groups:[[spirRocGrid, spirRocFolds]], mx:spirRocMeanX, my:spirRocMeanY, bx:spirRocBandX, bu:spirRocBandUp, bl:spirRocBandLo,
  frame:[64,482,1165,1413], xr:[-0.05,1.05], yr:[-0.049,1.053], yt:rocYTicks, leg:[262,1394],
  ylab:['False Positive Rate',17,1285], xlab:['True Positive Rate',267,1443]},
 {roc:false, cshift:5, fx:spirPrFoldX, fy:spirPrFoldY, mx:spirPrMeanX, my:spirPrMeanY, bx:spirPrBandX, bu:spirPrBandUp, bl:spirPrBandLo,
  frame:[555,973,1167,1415], xr:[-0.050,1.044], yr:[-0.058,1.241], yt:pr12YTicks, leg:[747,1395], dark:true,
  ylab:['Precision',508,1290], xlab:['Recall',778,1446]}
];

const traces = [];
const layout = {
  width: W, height: H, margin:{l:0,r:0,t:0,b:0},
  paper_bgcolor:'#ffffff', plot_bgcolor:'rgba(0,0,0,0)',
  showlegend:true, annotations:[], shapes:[]
};

panels.forEach((p, i) => {
  const k = i === 0 ? '' : String(i + 1);
  const xa = 'x' + k, ya = 'y' + k;
  let c = p.cshift;
  if (p.roc) {
    p.groups.forEach(([grid, folds]) => {
      folds.forEach(vals => {
        traces.push({type:'scatter', mode:'lines', xaxis:xa, yaxis:ya, showlegend:false, hoverinfo:'skip',
          x:[0].concat(grid), y:[0].concat(vals), line:{shape:'hv', width:1.1, color:tab10[c % 10]}, opacity:0.42});
        c++;
      });
    });
  } else {
    p.fx.forEach((fx, j) => {
      traces.push({type:'scatter', mode:'lines', xaxis:xa, yaxis:ya, showlegend:false, hoverinfo:'skip',
        x:fx, y:p.fy[j], line:{width:1.3, color:tab10[(j + c) % 10]}, opacity:0.58});
    });
  }
  // std band
  traces.push({type:'scatter', mode:'lines', xaxis:xa, yaxis:ya, showlegend:false, hoverinfo:'skip',
    x:p.bx.concat(p.bx.slice().reverse()), y:p.bu.concat(p.bl.slice().reverse()),
    fill:'toself', fillcolor: p.roc ? 'rgba(128,128,128,0.16)' : 'rgba(128,128,128,0.22)', line:{width:0}});
  if (p.roc) {
    traces.push({type:'scatter', mode:'lines', xaxis:xa, yaxis:ya, showlegend:false, hoverinfo:'skip',
      x:diagX, y:diagY, line:{color:'rgba(235,35,35,0.85)', width:2.4, dash:'9px,5px'}});
  }
  traces.push({type:'scatter', mode:'lines', xaxis:xa, yaxis:ya, name:legendNames[i], legend:'legend' + k, showlegend:true,
    x:p.mx, y:p.my, line:{color:'rgba(10,10,255,0.85)', width:p.roc ? 2.8 : 3.4}});

  const tickColor = p.dark ? '#333' : '#9a9a9a';
  const common = {showgrid:false, zeroline:false, showline:false, ticks:'outside', ticklen:3, tickwidth:1,
    tickcolor: p.dark ? '#666' : '#aaa', tickformat:'.1f', tickfont:{family:'DejaVu Sans', size: p.dark ? 11.5 : 11, color:tickColor}, fixedrange:true};
  layout['xaxis' + k] = Object.assign({}, common, {domain:[px(p.frame[0]), px(p.frame[1])], range:p.xr, anchor:ya, tickvals:xTicks});
  layout['yaxis' + k] = Object.assign({}, common, {domain:[py(p.frame[3]), py(p.frame[2])], range:p.yr, anchor:xa, tickvals:p.yt});
  layout['legend' + k] = {x:px(p.leg[0] - 5), y:py(p.leg[1]), xanchor:'left', yanchor:'middle', bgcolor:'rgba(0,0,0,0)',
    borderwidth:0, font:{family:'Liberation Sans, Arial, sans-serif', size:13.3, color: p.dark ? '#444' : '#2a2a2a'}};
  layout.shapes.push({type:'rect', xref:xa + ' domain', yref:ya + ' domain', x0:0, x1:1, y0:0, y1:1,
    line:{color: p.dark ? '#aaa' : '#555', width:1, dash: p.dark ? 'solid' : 'dot'}});

  const labFont = (sz) => ({family:'DejaVu Sans', size:sz, color: p.dark ? '#333' : '#555'});
  layout.annotations.push({xref:'paper', yref:'paper', x:px(p.ylab[1]), y:py(p.ylab[2]), text:p.ylab[0], textangle:-90,
    showarrow:false, xanchor:'center', yanchor:'middle', font:labFont(p.roc ? 12.5 : 13.5)});
  layout.annotations.push({xref:'paper', yref:'paper', x:px(p.xlab[1]), y:py(p.xlab[2]), text:p.xlab[0],
    showarrow:false, xanchor:'center', yanchor:'middle', font:labFont(p.roc ? 12.5 : 13)});
});

const serif = {family:'DejaVu Serif, Liberation Serif, serif', size:20.3, color:'#000'};
layout.annotations.push({xref:'paper', yref:'paper', x:px(232), y:py(18), text:columnTitles[0], showarrow:false, xanchor:'center', yanchor:'middle', font:serif});
layout.annotations.push({xref:'paper', yref:'paper', x:px(735), y:py(18), text:columnTitles[1], showarrow:false, xanchor:'center', yanchor:'middle', font:serif});
[46, 419, 791, 1150].forEach((yy, r) => {
  layout.annotations.push({xref:'paper', yref:'paper', x:px(487), y:py(yy), text:rowTitles[r], showarrow:false, xanchor:'center', yanchor:'middle', font:serif});
});

Plotly.newPlot('chart', traces, layout, {staticPlot:true, displayModeBar:false});
</script></body></html>
